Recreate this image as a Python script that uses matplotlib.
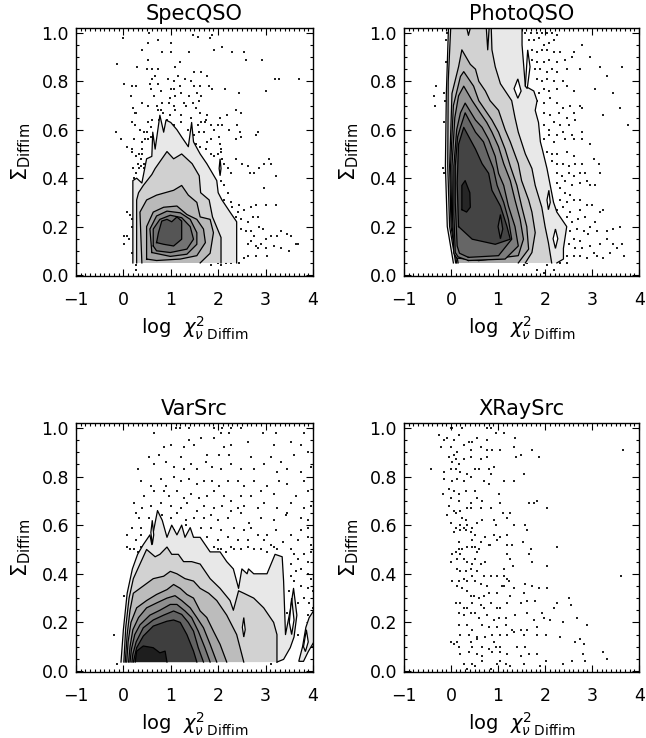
import matplotlib
matplotlib.use('Agg')
import matplotlib.pyplot as plt
import numpy as np
from matplotlib.ticker import MultipleLocator

plt.rcParams['font.family'] = ['DejaVu Sans']
plt.rcParams['mathtext.fontset'] = 'dejavusans'

# panel titles
titles = ['SpecQSO', 'PhotoQSO', 'VarSrc', 'XRaySrc']

# contour floors (lowest sigma bin) per panel
spec_floor = 0.05
photo_floor = 0.05
var_floor = 0.037

# ---------------- SpecQSO ----------------
spec_levels = [
    ([0.20, 0.20, 0.28, 0.39, 0.49, 0.60, 0.62, 0.67, 0.77, 0.85, 0.90, 1.00, 1.13, 1.23, 1.37, 1.44, 1.48,
      1.62, 1.76, 1.97, 2.00, 2.08, 2.25, 2.39, 2.39],
     [0.05, 0.39, 0.40, 0.38, 0.48, 0.49, 0.59, 0.52, 0.66, 0.59, 0.64, 0.63, 0.60, 0.57, 0.53, 0.63, 0.55,
      0.50, 0.46, 0.39, 0.34, 0.31, 0.26, 0.22, 0.05]),
    ([0.28, 0.28, 0.32, 0.42, 0.60, 0.67, 0.92, 1.06, 1.23, 1.45, 1.60, 1.63, 1.81, 1.88, 2.06, 2.06],
     [0.05, 0.31, 0.34, 0.37, 0.415, 0.44, 0.51, 0.48, 0.50, 0.46, 0.41, 0.34, 0.31, 0.24, 0.155, 0.05]),
    ([0.39, 0.35, 0.49, 0.70, 0.88, 1.06, 1.23, 1.37, 1.55, 1.62, 1.83, 1.90, 1.83, 1.62],
     [0.05, 0.26, 0.31, 0.33, 0.34, 0.35, 0.37, 0.33, 0.30, 0.24, 0.23, 0.175, 0.09, 0.05]),
    ([0.49, 0.49, 0.63, 0.85, 1.13, 1.34, 1.55, 1.69, 1.73, 1.55, 1.20, 0.70],
     [0.066, 0.20, 0.26, 0.28, 0.285, 0.25, 0.23, 0.19, 0.134, 0.08, 0.066, 0.06]),
    ([0.60, 0.56, 0.70, 0.92, 1.20, 1.41, 1.55, 1.55, 1.34, 0.99],
     [0.093, 0.19, 0.244, 0.264, 0.257, 0.23, 0.175, 0.127, 0.086, 0.077]),
    ([0.63, 0.63, 0.77, 0.99, 1.23, 1.41, 1.48, 1.34, 0.99, 0.70],
     [0.12, 0.19, 0.23, 0.247, 0.237, 0.20, 0.148, 0.107, 0.093, 0.10]),
    ([0.70, 0.74, 0.81, 0.92, 1.02, 1.13, 1.23, 1.23, 1.06, 0.85],
     [0.134, 0.175, 0.223, 0.23, 0.22, 0.24, 0.223, 0.148, 0.12, 0.127]),
]
spec_grays = ['#e8e8e8', '#d0d0d0', '#b9b9b9', '#a2a2a2', '#8a8a8a', '#737373', '#555555']
spec_islands = [([2.02, 2.04, 2.06, 2.04], [0.44, 0.48, 0.44, 0.41])]

spec_pts = [
    (0.54, 1.00), (1.46, 0.99), (1.58, 0.985), (1.86, 0.99), (1.83, 0.98), (0.0, 0.98), (0.52, 0.96),
    (0.74, 0.97), (1.0, 0.96), (1.01, 0.92), (0.40, 0.93), (0.82, 0.92), (1.39, 0.92), (1.92, 0.93),
    (2.08, 0.94), (2.29, 0.92), (2.55, 0.92), (2.58, 0.89), (2.92, 0.89), (0.51, 0.89), (1.20, 0.88),
    (-0.13, 0.87), (0.28, 0.86), (0.49, 0.85), (0.61, 0.85), (0.72, 0.85), (1.08, 0.86), (1.48, 0.84),
    (1.63, 0.84), (1.76, 0.82), (1.31, 0.81), (0.67, 0.82), (0.60, 0.81), (0.95, 0.81), (1.06, 0.80),
    (1.16, 0.82), (1.42, 0.80), (0.01, 0.79), (0.19, 0.78), (0.26, 0.78), (0.56, 0.79), (0.74, 0.79),
    (1.0, 0.77), (1.06, 0.77), (1.19, 0.78), (1.21, 0.75), (1.49, 0.78), (1.62, 0.78), (1.80, 0.78),
    (1.86, 0.77), (2.14, 0.77), (2.43, 0.75), (3.01, 0.76), (3.20, 0.81), (3.29, 0.81), (3.70, 0.81),
    (0.59, 0.77), (0.65, 0.74), (0.79, 0.76), (0.99, 0.73), (1.09, 0.74), (1.39, 0.74), (1.55, 0.75),
    (1.64, 0.74), (0.17, 0.74), (0.40, 0.71), (0.51, 0.70), (0.70, 0.70), (0.82, 0.71), (0.97, 0.71),
    (1.07, 0.70), (1.27, 0.71), (1.33, 0.70), (1.46, 0.71), (1.60, 0.72), (0.20, 0.69), (0.25, 0.67),
    (0.27, 0.67), (0.72, 0.68), (0.80, 0.68), (0.84, 0.67), (0.98, 0.66), (1.09, 0.68), (1.21, 0.66),
    (1.53, 0.69), (1.62, 0.67), (1.77, 0.66), (1.75, 0.64), (2.04, 0.65), (2.18, 0.66), (2.37, 0.68),
    (2.48, 0.67), (0.19, 0.63), (0.24, 0.62), (0.52, 0.63), (0.61, 0.64), (0.75, 0.64), (0.93, 0.64),
    (1.07, 0.62), (1.21, 0.63), (1.42, 0.65), (1.58, 0.62), (1.63, 0.63), (1.72, 0.63), (1.85, 0.62),
    (1.99, 0.62), (2.09, 0.62), (2.23, 0.60), (2.39, 0.62), (-0.15, 0.59), (0.35, 0.60), (0.44, 0.59),
    (0.49, 0.59), (0.59, 0.61), (1.14, 0.59), (1.37, 0.60), (1.49, 0.58), (1.60, 0.59), (1.70, 0.59),
    (1.92, 0.60), (2.01, 0.57), (2.46, 0.59), (2.48, 0.57), (2.37, 0.56), (2.83, 0.59), (2.80, 0.58),
    (-0.04, 0.56), (0.23, 0.56), (0.40, 0.55), (0.46, 0.56), (0.51, 0.56), (0.59, 0.57), (1.76, 0.55),
    (1.85, 0.56), (2.04, 0.54), (0.08, 0.53), (0.19, 0.52), (0.40, 0.52), (1.49, 0.53), (1.53, 0.54),
    (1.62, 0.53), (1.74, 0.52), (2.06, 0.52),
    (0.19, 0.51), (0.26, 0.49), (0.33, 0.50), (0.37, 0.48), (0.44, 0.46), (0.40, 0.50), (0.30, 0.46),
    (0.21, 0.44), (0.33, 0.44), (0.44, 0.44), (0.26, 0.42), (0.47, 0.42), (0.37, 0.45), (0.23, 0.40),
    (0.46, 0.40), (0.51, 0.43), (1.85, 0.50), (1.92, 0.49), (1.99, 0.50), (2.09, 0.48), (2.06, 0.51),
    (2.13, 0.46), (2.20, 0.44), (2.27, 0.42), (2.37, 0.48), (2.51, 0.46), (2.62, 0.45), (2.68, 0.42),
    (2.76, 0.42), (2.87, 0.44), (2.96, 0.46), (3.08, 0.48), (3.11, 0.46), (3.22, 0.41), (2.97, 0.36),
    (2.06, 0.39), (2.13, 0.37), (2.20, 0.34), (2.13, 0.31), (2.27, 0.30), (2.30, 0.28), (2.41, 0.26),
    (2.44, 0.29), (2.55, 0.27), (2.69, 0.28), (2.80, 0.29), (3.01, 0.29), (3.22, 0.29), (2.37, 0.24),
    (2.48, 0.23), (2.62, 0.22), (2.73, 0.24), (2.83, 0.24), (2.48, 0.19), (2.58, 0.18), (2.69, 0.18),
    (2.76, 0.16), (2.87, 0.20), (2.94, 0.19), (2.62, 0.13), (2.69, 0.14), (2.80, 0.12), (2.90, 0.13),
    (3.01, 0.15), (3.11, 0.16), (3.25, 0.16), (3.32, 0.18), (3.46, 0.17), (3.54, 0.16), (3.64, 0.13),
    (3.68, 0.13), (2.83, 0.11), (3.01, 0.11), (3.18, 0.12), (3.32, 0.11), (3.50, 0.10), (2.62, 0.08),
    (2.80, 0.08), (3.04, 0.08), (2.44, 0.05), (2.55, 0.07), (2.27, 0.05), (1.85, 0.04), (1.99, 0.05),
    (2.06, 0.04), (2.16, 0.05), (0.01, 0.16), (0.08, 0.16), (0.12, 0.15), (0.01, 0.13), (0.08, 0.26),
    (0.15, 0.25), (0.19, 0.23), (0.19, 0.20), (0.26, 0.04), (0.23, 0.07), (0.19, 0.09), (0.26, 0.02),
]

# ---------------- PhotoQSO ----------------
photo_levels = [
    ([0.05, -0.08, -0.12, -0.10, -0.05, 1.51, 1.51, 1.58, 1.76, 1.83, 1.79, 1.86, 1.90, 1.94, 2.04, 2.11,
      2.18, 2.25, 2.39, 2.46, 2.39, 2.39, 2.25],
     [0.05, 0.20, 0.45, 0.75, 1.05, 1.05, 0.95, 0.78, 0.76, 0.72, 0.68, 0.63, 0.55, 0.52, 0.44, 0.37,
      0.30, 0.26, 0.22, 0.20, 0.11, 0.066, 0.05]),
    ([0.10, -0.03, -0.07, -0.06, 0.00, 0.30, 0.37, 0.45, 0.74, 0.78, 0.82, 0.85, 0.87, 0.94, 1.05, 1.29,
      1.36, 1.43, 1.58, 1.72, 1.79, 1.93, 2.00, 2.07, 2.14],
     [0.05, 0.20, 0.45, 0.80, 1.05, 1.05, 0.99, 1.05, 1.05, 0.93, 1.05, 1.05, 0.93, 0.86, 0.79, 0.72,
      0.65, 0.59, 0.50, 0.44, 0.37, 0.28, 0.20, 0.134, 0.05]),
    ([0.12, 0.00, -0.03, 0.02, 0.16, 0.23, 0.41, 0.52, 0.59, 0.73, 0.83, 1.01, 1.15, 1.26, 1.43, 1.50,
      1.65, 1.72, 1.79, 1.72, 1.58],
     [0.05, 0.20, 0.45, 0.75, 0.86, 0.93, 0.87, 0.85, 0.80, 0.76, 0.72, 0.68, 0.60, 0.55, 0.46, 0.39,
      0.31, 0.26, 0.175, 0.093, 0.05]),
    ([0.15, 0.02, -0.01, 0.05, 0.20, 0.27, 0.48, 0.59, 0.73, 0.87, 1.01, 1.15, 1.26, 1.40, 1.50, 1.61,
      1.65, 1.43],
     [0.05, 0.20, 0.45, 0.70, 0.82, 0.84, 0.78, 0.72, 0.68, 0.64, 0.59, 0.52, 0.45, 0.37, 0.285, 0.20,
      0.107, 0.05]),
    ([0.59, 0.12, 0.06, 0.03, 0.02, 0.08, 0.16, 0.27, 0.45, 0.62, 0.76, 0.87, 1.01, 1.12, 1.26, 1.36,
      1.47, 1.54, 1.43],
     [0.06, 0.07, 0.09, 0.25, 0.45, 0.65, 0.74, 0.78, 0.72, 0.67, 0.63, 0.59, 0.53, 0.46, 0.39, 0.31,
      0.23, 0.148, 0.08]),
    ([0.37, 0.15, 0.09, 0.06, 0.06, 0.12, 0.20, 0.30, 0.52, 0.66, 0.80, 0.94, 1.01, 1.12, 1.22, 1.36,
      1.43, 1.15],
     [0.06, 0.075, 0.093, 0.25, 0.45, 0.60, 0.67, 0.71, 0.64, 0.61, 0.56, 0.49, 0.42, 0.37, 0.285, 0.20,
      0.12, 0.066]),
    ([0.37, 0.18, 0.13, 0.09, 0.09, 0.14, 0.20, 0.30, 0.52, 0.69, 0.80, 0.90, 0.98, 1.12, 1.22, 1.29,
      1.01],
     [0.073, 0.09, 0.12, 0.30, 0.45, 0.57, 0.61, 0.67, 0.59, 0.55, 0.49, 0.44, 0.37, 0.30, 0.23, 0.148,
      0.08]),
    ([0.16, 0.13, 0.16, 0.27, 0.52, 0.66, 0.80, 0.87, 1.05, 1.19, 1.26, 0.94, 0.45],
     [0.20, 0.38, 0.54, 0.61, 0.52, 0.46, 0.42, 0.35, 0.285, 0.20, 0.148, 0.127, 0.148]),
    ([0.23, 0.23, 0.30, 0.40, 0.41, 0.33],
     [0.27, 0.37, 0.39, 0.34, 0.28, 0.26]),
]
photo_grays = ['#e8e8e8', '#d2d2d2', '#bdbdbd', '#a8a8a8', '#929292', '#7c7c7c', '#666666', '#444444',
               '#262626']
photo_islands = [
    ([1.34, 1.42, 1.49, 1.42], [0.77, 0.81, 0.76, 0.73]),
    ([1.58, 1.63, 1.68, 1.62], [0.78, 0.93, 0.86, 0.77]),
    ([2.17, 2.22, 2.27, 2.22], [0.15, 0.19, 0.15, 0.11]),
    ([2.04, 2.08, 2.11, 2.07], [0.31, 0.35, 0.30, 0.27]),
    ([1.00, 1.05, 1.10, 1.05], [0.20, 0.25, 0.19, 0.15]),
]
photo_island_fill = ['white', 'white', 'white', 'white', '#555555']

photo_pts = [
    (-0.11, 0.97), (-0.09, 1.0), (-0.32, 0.78), (-0.37, 0.74), (-0.34, 0.70), (-0.15, 0.75), (-0.13, 0.72),
    (-0.11, 0.88), (-0.15, 0.63), (-0.09, 0.62), (1.58, 1.0), (1.69, 1.0), (1.83, 1.0), (1.94, 1.0),
    (2.04, 1.0), (2.15, 1.0), (2.25, 0.99), (1.65, 0.97), (1.76, 0.97), (1.86, 0.98), (1.97, 0.95),
    (2.08, 0.96), (2.18, 0.97), (1.72, 0.93), (1.83, 0.92), (1.94, 0.93), (2.04, 0.93), (2.18, 0.92),
    (2.32, 0.92), (2.61, 0.92), (2.78, 0.95), (1.72, 0.89), (1.83, 0.88), (1.97, 0.88), (2.08, 0.89),
    (2.25, 0.88), (2.43, 0.89), (2.57, 0.90), (2.96, 0.90), (1.79, 0.85), (1.90, 0.85), (2.04, 0.84),
    (2.15, 0.85), (2.25, 0.84), (2.46, 0.85), (2.75, 0.85), (3.17, 0.86), (3.63, 0.86), (1.83, 0.81),
    (1.94, 0.80), (2.04, 0.81), (2.18, 0.80), (2.39, 0.80), (1.97, 0.77), (1.86, 0.75), (2.08, 0.76),
    (2.25, 0.77), (2.46, 0.78), (2.61, 0.76), (3.06, 0.77), (3.31, 0.82), (3.45, 0.75), (1.83, 0.72),
    (1.97, 0.71), (2.11, 0.73), (2.25, 0.71), (2.39, 0.69), (2.54, 0.70), (2.75, 0.70), (1.97, 0.67),
    (2.11, 0.66), (2.29, 0.67), (2.46, 0.65), (2.61, 0.67), (2.78, 0.69), (3.24, 0.66), (3.59, 0.69),
    (3.77, 0.62), (1.97, 0.62), (2.08, 0.60), (2.18, 0.63), (2.32, 0.62), (2.50, 0.62), (2.64, 0.64),
    (2.08, 0.58), (2.25, 0.58), (2.39, 0.59), (2.57, 0.58), (2.78, 0.59), (1.97, 0.56), (2.18, 0.55),
    (2.43, 0.56), (2.61, 0.56), (2.78, 0.56), (2.96, 0.54),
    (-0.18, 0.44), (-0.16, 0.42), (2.04, 0.51), (2.15, 0.50), (2.25, 0.50), (2.46, 0.51), (2.61, 0.49),
    (2.15, 0.47), (2.25, 0.46), (2.39, 0.46), (2.50, 0.45), (2.64, 0.46), (2.78, 0.46), (3.03, 0.48),
    (3.14, 0.46), (3.17, 0.42), (2.25, 0.42), (2.36, 0.41), (2.50, 0.42), (2.61, 0.41), (2.75, 0.42),
    (2.85, 0.42), (2.25, 0.38), (2.32, 0.36), (2.43, 0.39), (2.57, 0.37), (2.75, 0.38), (2.89, 0.39),
    (2.96, 0.37), (3.06, 0.37), (2.43, 0.34), (2.54, 0.33), (2.32, 0.31), (2.46, 0.30), (2.61, 0.31),
    (2.75, 0.31), (2.25, 0.27), (2.39, 0.28), (2.54, 0.26), (2.75, 0.27), (2.89, 0.29), (2.99, 0.29),
    (3.17, 0.26), (3.24, 0.27), (2.46, 0.24), (2.57, 0.22), (2.71, 0.23), (2.85, 0.24), (2.96, 0.20),
    (3.06, 0.22), (2.43, 0.20), (2.54, 0.18), (2.68, 0.19), (2.82, 0.18), (2.92, 0.17), (3.10, 0.18),
    (3.31, 0.18), (3.45, 0.19), (3.59, 0.20), (2.61, 0.15), (2.75, 0.14), (2.50, 0.13), (2.64, 0.11),
    (2.78, 0.11), (2.96, 0.12), (3.03, 0.09), (3.17, 0.13), (3.31, 0.15), (3.45, 0.13), (3.52, 0.11),
    (3.63, 0.13), (2.46, 0.08), (2.61, 0.08), (2.75, 0.08), (2.89, 0.07), (3.10, 0.08), (3.24, 0.07),
    (3.38, 0.09), (3.67, 0.08), (2.32, 0.05), (2.46, 0.05), (1.55, 0.04), (1.62, 0.05), (1.83, 0.02),
    (1.97, 0.01), (2.18, 0.02), (2.04, 0.04),
]

# ---------------- VarSrc ----------------
var_levels = [
    ([-0.05, 0.00, 0.08, 0.19, 0.30, 0.42, 0.56, 0.60, 0.62, 0.72, 0.82, 0.92, 1.02, 1.13, 1.23, 1.30,
      1.41, 1.48, 1.62, 1.83, 2.04, 2.18, 2.32, 2.43, 2.50, 2.61, 2.64, 2.75, 2.92, 3.03, 3.20, 3.35,
      3.38, 3.42, 3.52, 3.59, 3.66, 3.60, 3.52, 3.38, 3.24],
     [0.037, 0.17, 0.32, 0.42, 0.48, 0.52, 0.56, 0.52, 0.56, 0.66, 0.62, 0.55, 0.60, 0.56, 0.60, 0.55,
      0.59, 0.55, 0.55, 0.49, 0.49, 0.45, 0.42, 0.34, 0.42, 0.40, 0.42, 0.40, 0.40, 0.40, 0.48, 0.47,
      0.37, 0.15, 0.25, 0.34, 0.23, 0.14, 0.096, 0.048, 0.037]),
    ([0.01, 0.05, 0.12, 0.21, 0.35, 0.49, 0.67, 0.77, 0.92, 1.02, 1.16, 1.27, 1.44, 1.62, 1.83, 2.04,
      2.25, 2.32, 2.43, 2.54, 2.75, 2.96, 3.17, 3.24, 3.24],
     [0.037, 0.18, 0.30, 0.38, 0.44, 0.50, 0.47, 0.48, 0.51, 0.48, 0.48, 0.45, 0.45, 0.44, 0.38, 0.34,
      0.29, 0.25, 0.33, 0.32, 0.30, 0.26, 0.20, 0.15, 0.037]),
    ([0.04, 0.08, 0.14, 0.21, 0.42, 0.63, 0.85, 0.99, 1.13, 1.30, 1.48, 1.62, 1.80, 1.97, 2.18, 2.39,
      2.54],
     [0.037, 0.15, 0.25, 0.32, 0.35, 0.38, 0.39, 0.41, 0.40, 0.38, 0.37, 0.34, 0.32, 0.29, 0.23, 0.15,
      0.037]),
    ([0.07, 0.10, 0.16, 0.28, 0.49, 0.70, 0.92, 1.06, 1.20, 1.34, 1.48, 1.62, 1.76, 1.90, 2.04, 2.18],
     [0.037, 0.12, 0.20, 0.26, 0.29, 0.315, 0.335, 0.356, 0.34, 0.315, 0.30, 0.247, 0.22, 0.164, 0.11,
      0.037]),
    ([0.11, 0.14, 0.20, 0.32, 0.49, 0.70, 0.92, 1.09, 1.23, 1.41, 1.55, 1.69, 1.83, 1.97],
     [0.037, 0.10, 0.17, 0.22, 0.26, 0.28, 0.30, 0.31, 0.29, 0.26, 0.22, 0.178, 0.11, 0.037]),
    ([0.14, 0.17, 0.24, 0.35, 0.56, 0.77, 0.99, 1.13, 1.30, 1.44, 1.58, 1.72, 1.83],
     [0.037, 0.09, 0.15, 0.19, 0.23, 0.25, 0.274, 0.274, 0.247, 0.22, 0.164, 0.096, 0.037]),
    ([0.18, 0.20, 0.27, 0.42, 0.63, 0.85, 1.06, 1.23, 1.37, 1.48, 1.58, 1.69],
     [0.037, 0.07, 0.12, 0.178, 0.21, 0.23, 0.247, 0.233, 0.20, 0.164, 0.096, 0.037]),
    ([0.21, 0.28, 0.42, 0.63, 0.92, 1.06, 1.20, 1.34, 1.48, 1.55],
     [0.037, 0.096, 0.144, 0.185, 0.205, 0.21, 0.20, 0.15, 0.082, 0.037]),
    ([0.25, 0.28, 0.42, 0.63, 0.77, 0.88, 0.92],
     [0.037, 0.082, 0.103, 0.096, 0.075, 0.082, 0.037]),
]
var_grays = ['#e8e8e8', '#d2d2d2', '#bcbcbc', '#a4a4a4', '#8e8e8e', '#787878', '#626262', '#3e3e3e',
             '#1e1e1e']
var_islands = [
    ([0.58, 0.61, 0.64, 0.61], [0.57, 0.62, 0.56, 0.52]),
    ([2.51, 2.54, 2.57, 2.54], [0.18, 0.22, 0.17, 0.14]),
    ([3.70, 3.78, 3.85, 3.92, 4.02, 4.02, 3.90, 3.80], [0.04, 0.10, 0.18, 0.22, 0.25, 0.12, 0.08, 0.04]),
    ([3.80, 3.86, 3.90, 3.84], [0.10, 0.17, 0.12, 0.08]),
    ([3.50, 3.55, 3.60, 3.55], [0.20, 0.30, 0.21, 0.15]),
]
var_island_fill = ['white', 'white', '#e8e8e8', 'white', 'white']

var_pts = [
    (1.11, 1.0), (1.20, 1.0), (1.39, 1.0), (1.92, 1.0), (2.09, 1.0), (2.27, 1.0), (2.06, 0.98), (2.23, 0.98),
    (2.48, 1.0), (2.94, 0.98), (3.22, 0.98), (3.82, 0.98), (0.65, 0.98), (1.39, 0.95), (1.63, 0.96),
    (1.92, 0.96), (1.0, 0.93), (1.28, 0.92), (1.49, 0.93), (2.13, 0.92), (2.27, 0.93), (2.62, 0.94),
    (3.18, 0.93), (3.54, 0.94), (3.75, 0.93), (0.54, 0.88), (0.75, 0.89), (0.86, 0.92), (1.21, 0.88),
    (1.77, 0.89), (2.02, 0.89), (2.23, 0.89), (2.69, 0.88), (3.11, 0.88), (3.32, 0.86), (3.61, 0.89),
    (3.89, 0.90), (0.65, 0.85), (0.89, 0.86), (1.07, 0.84), (1.28, 0.83), (1.42, 0.85), (1.56, 0.83),
    (1.74, 0.86), (1.88, 0.84), (2.06, 0.83), (2.27, 0.85), (2.48, 0.83), (2.76, 0.83), (2.97, 0.85),
    (3.25, 0.82), (3.46, 0.83), (3.75, 0.82), (3.96, 0.84), (0.30, 0.83), (0.37, 0.78), (0.58, 0.76),
    (0.79, 0.79), (0.89, 0.76), (1.07, 0.80), (1.21, 0.78), (1.39, 0.79), (1.56, 0.77), (1.70, 0.78),
    (1.88, 0.78), (2.02, 0.76), (2.20, 0.78), (2.41, 0.78), (2.55, 0.76), (2.76, 0.78), (3.04, 0.76),
    (3.29, 0.78), (3.46, 0.77), (3.82, 0.78), (0.44, 0.72), (0.65, 0.74), (0.86, 0.74), (0.96, 0.72),
    (1.14, 0.74), (1.28, 0.71), (1.42, 0.73), (1.60, 0.71), (1.77, 0.72), (1.92, 0.74), (2.13, 0.72),
    (2.27, 0.70), (2.48, 0.72), (2.69, 0.72), (2.90, 0.74), (3.18, 0.73), (3.54, 0.69), (3.64, 0.72),
    (3.89, 0.74), (0.23, 0.69), (0.40, 0.67), (0.58, 0.68), (0.79, 0.69), (1.0, 0.68), (1.21, 0.67),
    (1.35, 0.69), (1.56, 0.66), (1.70, 0.68), (1.92, 0.67), (2.09, 0.68), (2.27, 0.66), (2.41, 0.67),
    (2.55, 0.68), (2.83, 0.67), (2.97, 0.69), (3.25, 0.67), (3.46, 0.65), (3.82, 0.67), (3.96, 0.68),
    (0.26, 0.65), (0.33, 0.63), (0.54, 0.63), (0.82, 0.64), (1.0, 0.63), (1.14, 0.65), (1.32, 0.62),
    (1.49, 0.63), (1.70, 0.63), (1.85, 0.64), (1.99, 0.62), (2.20, 0.63), (2.48, 0.65), (2.65, 0.61),
    (2.90, 0.63), (3.18, 0.62), (3.43, 0.64), (3.75, 0.63), (3.89, 0.62), (0.19, 0.59), (0.37, 0.59),
    (1.07, 0.58), (1.32, 0.60), (1.63, 0.59), (1.85, 0.59), (2.06, 0.58), (2.34, 0.59), (2.55, 0.58),
    (2.69, 0.59), (2.83, 0.56), (3.04, 0.56), (3.22, 0.58), (3.54, 0.56), (3.75, 0.58), (3.89, 0.59),
    (0.08, 0.56), (0.26, 0.54), (0.37, 0.56), (1.77, 0.55), (1.99, 0.54), (2.20, 0.55), (2.41, 0.54),
    (2.62, 0.54), (2.97, 0.54), (3.11, 0.52), (3.36, 0.53), (3.68, 0.54), (3.89, 0.55), (3.96, 0.52),
    (0.08, 0.51), (0.15, 0.50), (0.23, 0.50), (0.30, 0.49), (0.37, 0.51), (1.92, 0.51), (1.99, 0.50),
    (2.06, 0.50), (2.16, 0.49), (2.27, 0.51), (2.34, 0.50), (2.48, 0.50), (2.62, 0.51), (2.76, 0.50),
    (2.90, 0.50), (3.04, 0.49), (3.18, 0.51), (3.25, 0.50), (3.54, 0.50), (3.61, 0.48), (3.68, 0.46),
    (3.82, 0.48), (3.89, 0.45), (3.96, 0.49), (3.54, 0.44), (3.64, 0.41), (3.75, 0.42), (3.89, 0.40),
    (3.96, 0.38), (3.54, 0.39), (3.61, 0.37), (3.75, 0.35), (3.89, 0.34), (3.99, 0.33), (3.50, 0.33),
    (3.57, 0.30), (3.68, 0.28), (3.82, 0.30), (3.92, 0.28), (3.99, 0.26), (3.46, 0.24), (3.61, 0.23),
    (3.89, 0.23), (3.99, 0.20), (3.54, 0.17), (3.68, 0.15), (3.96, 0.16), (-0.20, 0.15), (0.01, 0.31),
    (-0.13, 0.03), (0.01, 0.04), (3.11, 0.03), (3.18, 0.04), (3.25, 0.05), (3.99, 0.10),
]

# ---------------- XRaySrc (points only) ----------------
xray_pts = [
    (-0.01, 1.0), (0.03, 1.0), (0.24, 1.0), (0.77, 1.0), (0.84, 1.0), (1.12, 0.98), (0.95, 0.98),
    (-0.08, 0.96), (-0.25, 0.97), (0.17, 0.97), (-0.15, 0.95), (0.06, 0.95), (0.28, 0.93), (0.38, 0.94),
    (0.45, 0.94), (0.56, 0.96), (0.77, 0.95), (1.35, 0.96), (-0.22, 0.92), (-0.01, 0.92), (0.13, 0.90),
    (0.42, 0.91), (0.63, 0.92), (0.77, 0.91), (0.88, 0.91), (1.05, 0.91), (1.33, 0.92), (1.72, 0.91),
    (1.86, 0.88), (3.65, 0.91), (-0.04, 0.88), (0.03, 0.86), (0.10, 0.87), (0.17, 0.85), (0.06, 0.89),
    (0.28, 0.87), (0.42, 0.88), (0.63, 0.87), (0.77, 0.88), (0.91, 0.84), (1.39, 0.88), (1.49, 0.89),
    (-0.43, 0.83), (-0.15, 0.82), (-0.01, 0.83), (0.10, 0.83), (0.20, 0.82), (0.35, 0.81), (0.52, 0.83),
    (0.59, 0.83), (0.81, 0.83), (0.84, 0.81), (1.56, 0.81), (-0.15, 0.79), (0.03, 0.78), (0.13, 0.79),
    (0.28, 0.78), (0.42, 0.80), (0.70, 0.78), (0.81, 0.77), (1.12, 0.78), (1.33, 0.78), (-0.18, 0.73),
    (-0.04, 0.75), (0.06, 0.74), (0.17, 0.73), (0.31, 0.74), (0.52, 0.74), (0.56, 0.71), (0.66, 0.70),
    (1.02, 0.73), (1.05, 0.69), (-0.01, 0.71), (0.17, 0.70), (0.42, 0.69), (1.65, 0.69), (1.76, 0.69),
    (1.83, 0.70), (2.04, 0.67), (-0.04, 0.68), (0.06, 0.66), (0.20, 0.66), (0.35, 0.67), (0.42, 0.67),
    (0.63, 0.67), (0.84, 0.67), (1.11, 0.65), (1.26, 0.65), (-0.08, 0.64), (0.10, 0.65), (0.24, 0.63),
    (0.31, 0.62), (0.91, 0.62), (1.19, 0.63), (-0.01, 0.61), (0.10, 0.59), (0.20, 0.60), (0.28, 0.59),
    (0.35, 0.60), (0.45, 0.59), (0.56, 0.61), (0.66, 0.62), (0.95, 0.60), (1.33, 0.60), (1.58, 0.60),
    (0.06, 0.57), (0.20, 0.58), (0.31, 0.58), (0.42, 0.57), (0.52, 0.56), (0.73, 0.55), (0.91, 0.56),
    (1.05, 0.55), (1.18, 0.56), (1.62, 0.58), (0.17, 0.53), (0.35, 0.51), (0.45, 0.54), (0.52, 0.51),
    (0.63, 0.53), (0.83, 0.52), (0.98, 0.54), (1.19, 0.52), (1.30, 0.52), (1.53, 0.53), (2.25, 0.51),
    (0.03, 0.48), (0.10, 0.49), (0.17, 0.50), (0.24, 0.50), (0.35, 0.51), (0.45, 0.51), (0.52, 0.51),
    (0.56, 0.49), (0.59, 0.50), (0.81, 0.52), (-0.01, 0.45), (0.13, 0.46), (0.20, 0.48), (0.28, 0.46),
    (0.35, 0.45), (0.45, 0.44), (0.52, 0.46), (0.63, 0.44), (0.73, 0.45), (1.19, 0.48), (1.26, 0.46),
    (1.65, 0.48), (1.69, 0.50), (1.72, 0.45), (2.03, 0.43), (1.12, 0.42), (1.31, 0.43), (0.13, 0.42),
    (0.20, 0.41), (0.31, 0.41), (0.42, 0.42), (0.56, 0.41), (0.70, 0.39), (0.84, 0.39), (0.98, 0.39),
    (1.12, 0.39), (1.19, 0.38), (1.23, 0.37), (0.03, 0.37), (0.17, 0.37), (0.28, 0.38), (0.35, 0.37),
    (0.45, 0.39), (0.52, 0.37), (0.63, 0.36), (0.77, 0.35), (1.09, 0.35), (1.12, 0.35), (1.33, 0.34),
    (1.58, 0.36), (1.72, 0.35), (1.86, 0.34), (2.03, 0.34), (3.61, 0.39), (0.13, 0.35), (0.24, 0.34),
    (0.35, 0.33), (0.42, 0.31), (0.49, 0.31), (0.59, 0.30), (0.70, 0.31), (0.81, 0.32), (0.98, 0.32),
    (1.26, 0.31), (1.55, 0.32), (1.48, 0.28), (1.62, 0.29), (1.79, 0.29), (2.18, 0.26), (2.25, 0.28),
    (2.50, 0.30), (2.55, 0.27), (0.10, 0.28), (0.20, 0.28), (0.28, 0.26), (0.35, 0.26), (0.45, 0.28),
    (0.63, 0.27), (0.70, 0.26), (0.84, 0.28), (0.98, 0.26), (1.05, 0.26), (1.19, 0.28), (0.17, 0.24),
    (0.28, 0.23), (0.42, 0.24), (0.52, 0.24), (0.59, 0.22), (0.77, 0.23), (0.91, 0.21), (1.02, 0.22),
    (1.16, 0.22), (1.37, 0.23), (1.62, 0.24), (1.76, 0.21), (1.94, 0.24), (1.97, 0.22), (2.11, 0.21),
    (2.68, 0.22), (0.17, 0.19), (0.35, 0.19), (0.45, 0.17), (0.66, 0.19), (0.81, 0.18), (0.98, 0.18),
    (1.16, 0.19), (1.30, 0.17), (1.48, 0.17), (1.62, 0.17), (1.83, 0.18), (2.39, 0.20), (2.89, 0.19),
    (0.20, 0.15), (0.38, 0.15), (0.56, 0.14), (0.73, 0.14), (0.88, 0.15), (1.05, 0.15), (1.19, 0.15),
    (1.33, 0.16), (1.55, 0.15), (1.83, 0.15), (2.01, 0.15), (2.32, 0.14), (-0.01, 0.12), (0.13, 0.12),
    (0.17, 0.10), (0.42, 0.12), (0.45, 0.10), (0.56, 0.13), (0.66, 0.10), (0.81, 0.09), (0.91, 0.12),
    (0.95, 0.10), (1.05, 0.10), (1.41, 0.10), (1.58, 0.10), (2.64, 0.12), (2.75, 0.13), (2.82, 0.11),
    (0.06, 0.11), (0.20, 0.07), (0.38, 0.08), (0.56, 0.07), (0.66, 0.06), (0.88, 0.08), (1.05, 0.08),
    (1.19, 0.07), (1.48, 0.06), (1.65, 0.07), (1.83, 0.07), (2.80, 0.07), (3.24, 0.08), (0.28, 0.03),
    (0.45, 0.03), (0.35, 0.01), (0.52, 0.02), (0.66, 0.04), (0.84, 0.01), (0.98, 0.03), (1.05, 0.04),
    (1.16, 0.03), (1.26, 0.02), (1.55, 0.03), (1.90, 0.02), (2.01, 0.04), (2.39, 0.03), (2.57, 0.04),
    (2.85, 0.04), (3.31, 0.05),
]

panels = [
    (spec_pts, spec_levels, spec_grays, spec_islands, ['white'], spec_floor),
    (photo_pts, photo_levels, photo_grays, photo_islands, photo_island_fill, photo_floor),
    (var_pts, var_levels, var_grays, var_islands, var_island_fill, var_floor),
    (xray_pts, [], [], [], [], 0.0),
]

fig = plt.figure(figsize=(6.46, 7.38), dpi=100)
rects = [
    [0.1176, 0.6260, 0.3669, 0.3360],
    [0.6254, 0.6260, 0.3640, 0.3360],
    [0.1176, 0.0894, 0.3669, 0.3374],
    [0.6254, 0.0894, 0.3640, 0.3374],
]

for k, (pts, levels, grays, islands, ifill, floor) in enumerate(panels):
    ax = fig.add_axes(rects[k])
    px = [p[0] for p in pts]
    py = [p[1] for p in pts]
    ax.scatter(px, py, s=1.6, marker='s', c='#222222', linewidths=0, zorder=1)

    for i, (xs, ys) in enumerate(levels):
        ax.fill(xs, ys, facecolor=grays[i], edgecolor='none', zorder=2 + i)
        lx, ly = list(xs), list(ys)
        if abs(ys[0] - floor) > 0.002 or abs(ys[-1] - floor) > 0.002:
            lx.append(xs[0])
            ly.append(ys[0])
        ax.plot(lx, ly, color='black', lw=0.9, zorder=2 + i)
    for j, (xs, ys) in enumerate(islands):
        z = 2 + len(levels)
        ax.fill(xs, ys, facecolor=ifill[j], edgecolor='black', lw=0.9, zorder=z)

    ax.set_xlim(-1, 4)
    ax.set_ylim(-0.004, 1.02)
    ax.xaxis.set_major_locator(MultipleLocator(1))
    ax.xaxis.set_minor_locator(MultipleLocator(0.1))
    ax.yaxis.set_major_locator(MultipleLocator(0.2))
    ax.yaxis.set_minor_locator(MultipleLocator(0.05))
    ax.set_yticks([0, 0.2, 0.4, 0.6, 0.8, 1.0])
    ax.set_yticklabels(['0.0', '0.2', '0.4', '0.6', '0.8', '1.0'])
    ax.set_xticks([-1, 0, 1, 2, 3, 4])
    ax.set_xticklabels(['\u22121', '0', '1', '2', '3', '4'])
    ax.tick_params(which='both', direction='in', top=True, right=True, width=0.8, colors='black')
    ax.tick_params(which='major', length=5)
    ax.tick_params(which='minor', length=2.5)
    ax.tick_params(axis='x', which='major', pad=11, labelsize=12.5)
    ax.tick_params(axis='y', which='major', pad=5, labelsize=12.5)
    for s in ax.spines.values():
        s.set_linewidth(1.0)
        s.set_zorder(30)

    ax.set_title(titles[k], fontsize=15, pad=6)
    ax.set_xlabel(r'log  $\chi^{2}_{\nu\ \mathrm{Diffim}}$', fontsize=14, labelpad=4)
    ax.set_ylabel(r'$\Sigma_{\mathrm{Diffim}}$', fontsize=15, labelpad=6)

fig.savefig('out.png', dpi=100)
